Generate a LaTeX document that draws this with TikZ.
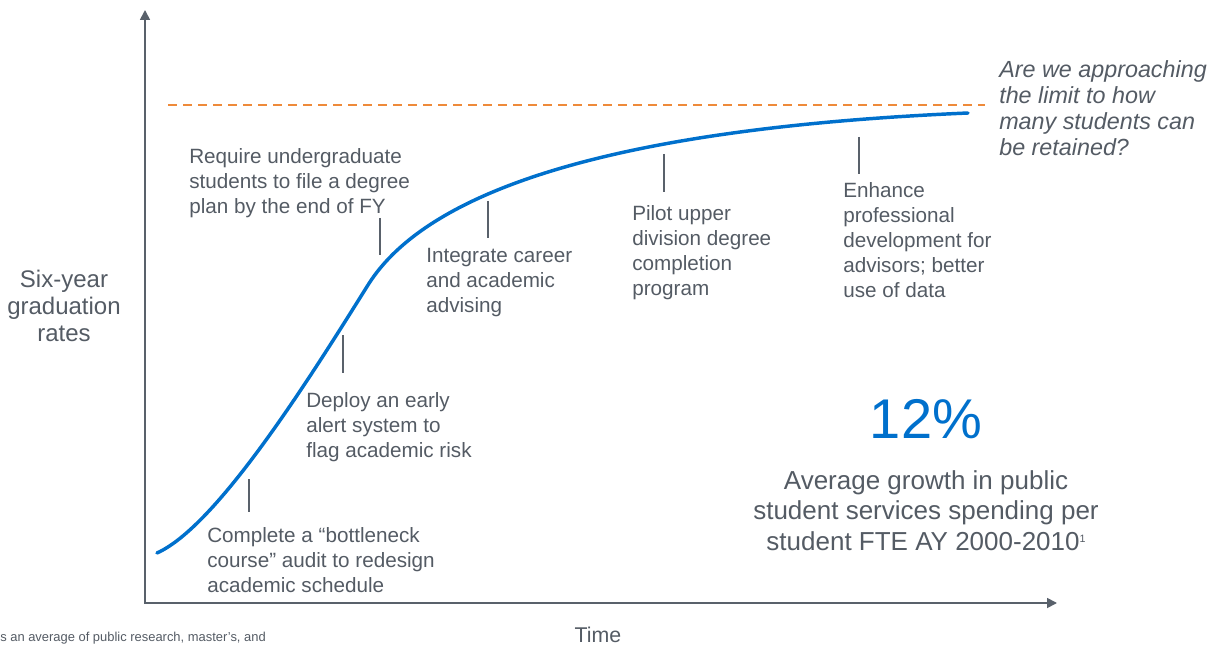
\documentclass[tikz,border=0pt]{standalone}
\usepackage{fontspec}
\setmainfont{Liberation Sans}
\usetikzlibrary{arrows.meta}
\tikzset{>={Triangle[length=7.5pt,width=7.5pt]}}
\definecolor{axisgray}{HTML}{59616B}
\definecolor{textgray}{HTML}{545B64}
\definecolor{curveblue}{HTML}{0070CC}
\definecolor{limitorange}{HTML}{EE8A3A}

\begin{document}
\begin{tikzpicture}[x=0.75pt, y=-0.75pt,
  milestone/.style={anchor=north west, align=left, inner sep=0pt, text=textgray,
    font=\fontsize{15.5}{18.75}\selectfont},
  leader/.style={draw=axisgray, line width=1pt}]
  \useasboundingbox (0,0) rectangle (1216,645);

  % axes
  \coordinate (origin) at (145,603);
  \coordinate (ytop) at (145,10);
  \coordinate (xend) at (1057,603);
  \draw[<->, axisgray, line width=1.3pt] (ytop) -- (origin) -- (xend);

  % retention limit
  \coordinate (limit start) at (168,105);
  \coordinate (limit end) at (985,105);
  \draw[limitorange, line width=1.6pt, dash pattern=on 7pt off 4.25pt] (limit start) -- (limit end);

  % graduation curve
  \coordinate (curve start) at (157,553);
  \coordinate (curve bend) at (368,285);
  \coordinate (curve end) at (968,113);
  \draw[curveblue, line width=2.6pt, line cap=round]
    (curve start) .. controls (217,526) and (308,381) .. (curve bend)
                  .. controls (428,189) and (618,128) .. (curve end);

  % leader lines
  \foreach \n/\x/\ya/\yb in {audit/249/479/512, alert/343/335/373, plan/380/218/255,
      advising/488/201/238, pilot/664/154/192, enhance/859/137/174} {
    \coordinate (\n top) at (\x,\ya);
    \coordinate (\n bot) at (\x,\yb);
    \draw[leader] (\n top) -- (\n bot);
  }

  % milestones
  \node[milestone] (audit) at (207,527) {Complete a “bottleneck\\course” audit to redesign\\academic schedule};
  \node[milestone] (alert) at (306,392) {Deploy an early\\alert system to\\flag academic risk};
  \node[milestone] (plan) at (189,148) {Require undergraduate\\students to file a degree\\plan by the end of FY};
  \node[milestone] (advising) at (426,248) {Integrate career\\and academic\\advising};
  \node[milestone] (pilot) at (632,205) {Pilot upper\\division degree\\completion\\program};
  \node[milestone] (enhance) at (843,182) {Enhance\\professional\\development for\\advisors; better\\use of data};
  \node[milestone, font=\fontsize{17.5}{19.5}\selectfont\itshape] (limit) at (999,60)
    {Are we approaching\\the limit to how\\many students can\\be retained?};

  % axis labels
  \node[anchor=north, align=center, inner sep=0pt, text=textgray,
    font=\fontsize{18}{20.25}\selectfont] (ylabel) at (64,270) {Six-year\\graduation\\rates};
  \node[anchor=north, inner sep=0pt, text=textgray,
    font=\fontsize{16}{19}\selectfont] (xlabel) at (598,627) {Time};

  % spending callout
  \node[anchor=north, inner sep=0pt, text=curveblue,
    font=\fontsize{42}{48}\selectfont] (share) at (926,399) {12\%};
  \node[anchor=north, align=center, inner sep=0pt, text=textgray,
    font=\fontsize{19.5}{23}\selectfont] (growth) at (926,470)
    {Average growth in public\\student services spending per\\student FTE AY 2000-2010\raisebox{0.6ex}{\fontsize{8}{8}\selectfont 1}};

  % footnote
  \node[anchor=base west, inner sep=0pt, text=textgray,
    font=\fontsize{9.7}{11}\selectfont] (note) at (0,641) {s an average of public research, master’s, and};
\end{tikzpicture}
\end{document}
